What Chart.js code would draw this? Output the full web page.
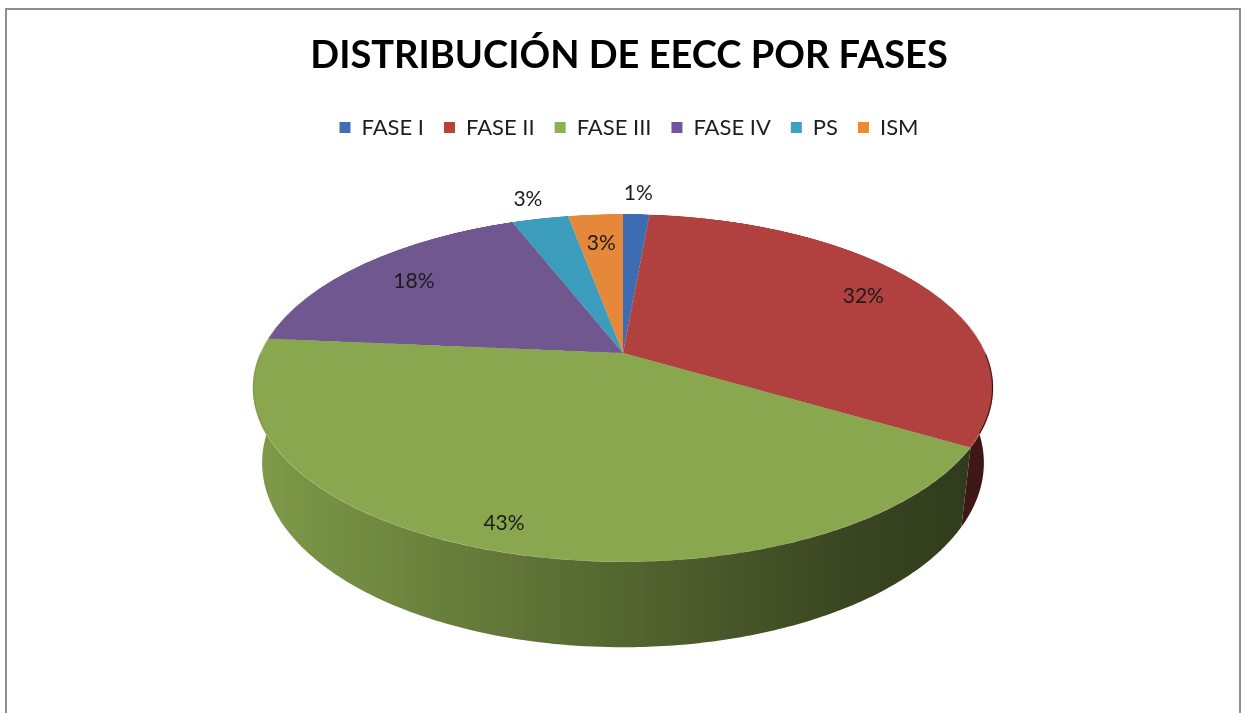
<!DOCTYPE html>
<html>
<head>
<meta charset="utf-8">
<script src="https://cdn.jsdelivr.net/npm/chart.js@4.4.1/dist/chart.umd.min.js"></script>
<style>
    html, body { margin: 0; background: #fff; }
    #wrap { position: relative; width: 1244px; height: 713px; overflow: hidden; }
    #frame { position: absolute; left: 5px; top: 8px; width: 1236px; height: 800px;
             border: 2px solid #8e8e8e; box-sizing: border-box; z-index: 0; }
    #pieBox { position: absolute; width: 760px; height: 760px; z-index: 1; }
    #flat { position: absolute; left: 0; top: 0; z-index: 2; }
</style>
</head>
<body>
<div id="wrap">
    <div id="frame"></div>
    <div id="pieBox"><canvas id="pieTop" width="760" height="760"></canvas></div>
    <canvas id="flat" width="1244" height="713"></canvas>
</div>
<script>
'use strict';

// ------------------------------------------------------- //
// Data
// ------------------------------------------------------ //
var chartTitle = 'DISTRIBUCIÓN DE EECC POR FASES';
var categories = ['FASE I', 'FASE II', 'FASE III', 'FASE IV', 'PS', 'ISM'];
var values     = [1.4, 32.1, 42.9, 17.7, 3.0, 2.9];

var legendColors = ['#3f6eb5', '#b8403d', '#8fb153', '#7453a0', '#3ea1c2', '#ef8a33'];
var topColors    = ['#3c6cb2', '#b0413e', '#89a74e', '#70578f', '#3b9cbb', '#e6883a'];
// how far out each percentage sits, as a share of the radius
var labelRadius  = [1.19, 0.80, 0.89, 0.79, 1.18, 0.76];

// ------------------------------------------------------- //
// Perspective of the tilted pie (Excel style 3D)
// ------------------------------------------------------ //
var view = { cx: 623, cy: 353, R: 362.5, tilt: 62.6, dist: 1601, depth: 85 };
var half = 380;

var box = document.getElementById('pieBox');
box.style.left = (view.cx - half) + 'px';
box.style.top = (view.cy - half) + 'px';
box.style.transformOrigin = half + 'px ' + half + 'px';
box.style.transform = 'perspective(' + view.dist + 'px) rotateX(' + view.tilt + 'deg)';

// same maths as the css transform, h = distance below the top face
function project(theta, f, h) {
    var t = view.tilt * Math.PI / 180;
    var x = view.R * f * Math.cos(theta);
    var y = view.R * f * Math.sin(theta);
    var Y = y * Math.cos(t) + h * Math.sin(t);
    var Z = y * Math.sin(t) - h * Math.cos(t);
    var w = 1 - Z / view.dist;
    return { x: view.cx + x / w, y: view.cy + Y / w };
}

function shade(hex, k) {
    var n = parseInt(hex.slice(1), 16);
    var r = Math.round(((n >> 16) & 255) * k);
    var g = Math.round(((n >> 8) & 255) * k);
    var b = Math.round((n & 255) * k);
    return 'rgb(' + r + ',' + g + ',' + b + ')';
}

var total = values.reduce(function (a, b) { return a + b; }, 0);

var pie3d = {
    id: 'pie3d',
    // the top face is drawn by the tilted chart underneath
    beforeDatasetsDraw: function () { return false; },
    afterDraw: function (chart) {
        var ctx = chart.ctx;
        var arcs = chart.getDatasetMeta(0).data;
        var steps = 90, i, k;

        ctx.save();
        // keep the side off the top face
        ctx.beginPath();
        ctx.rect(0, 0, chart.width, chart.height);
        for (k = 0; k <= 360; k++) {
            var q = project(k / 360 * 2 * Math.PI, 0.997, 0);
            if (k === 0) ctx.moveTo(q.x, q.y); else ctx.lineTo(q.x, q.y);
        }
        ctx.closePath();
        ctx.clip('evenodd');

        var pieces = [];
        arcs.forEach(function (arc, idx) {
            [[0, Math.PI / 2], [Math.PI / 2, Math.PI]].forEach(function (r, side) {
                var a = Math.max(arc.startAngle, r[0]);
                var b = Math.min(arc.endAngle, r[1]);
                if (b > a) pieces.push({ i: idx, a: a, b: b, side: side });
            });
        });
        var right = pieces.filter(function (p) { return p.side === 0; }).sort(function (p, q) { return p.a - q.a; });
        var left = pieces.filter(function (p) { return p.side === 1; }).sort(function (p, q) { return q.a - p.a; });

        right.concat(left).forEach(function (p) {
            var c = topColors[p.i];
            var grad = ctx.createLinearGradient(view.cx - view.R - 10, 0, view.cx + view.R + 10, 0);
            grad.addColorStop(0, shade(c, 0.93));
            grad.addColorStop(0.45, shade(c, 0.64));
            grad.addColorStop(0.8, shade(c, 0.42));
            grad.addColorStop(1, shade(c, 0.34));
            ctx.beginPath();
            for (i = 0; i <= steps; i++) {
                var t1 = p.a + (p.b - p.a) * i / steps;
                var top = project(t1, 1, 0);
                if (i === 0) ctx.moveTo(top.x, top.y); else ctx.lineTo(top.x, top.y);
            }
            for (i = steps; i >= 0; i--) {
                var t2 = p.a + (p.b - p.a) * i / steps;
                var bot = project(t2, 1, view.depth);
                ctx.lineTo(bot.x, bot.y);
            }
            ctx.closePath();
            ctx.fillStyle = grad;
            ctx.fill();
        });
        ctx.restore();

        // percentage labels
        ctx.save();
        ctx.font = '21px Lato';
        ctx.fillStyle = '#1c1c1c';
        ctx.textAlign = 'center';
        ctx.textBaseline = 'middle';
        arcs.forEach(function (arc, idx) {
            var mid = (arc.startAngle + arc.endAngle) / 2;
            var p = project(mid, labelRadius[idx], 0);
            ctx.fillText(Math.round(values[idx] / total * 100) + '%', p.x, p.y);
        });
        ctx.restore();
    }
};

// ------------------------------------------------------- //
// Top face of the pie (tilted by css)
// ------------------------------------------------------ //
var pieTop = new Chart(document.getElementById('pieTop'), {
    type: 'pie',
    data: {
        labels: categories,
        datasets: [{
            data: values,
            backgroundColor: topColors,
            borderWidth: 0,
            hoverOffset: 0
        }]
    },
    options: {
        responsive: false,
        animation: false,
        events: [],
        radius: view.R,
        layout: { padding: 0 },
        plugins: {
            legend: { display: false },
            title: { display: false },
            tooltip: { enabled: false }
        }
    }
});

// ------------------------------------------------------- //
// Title, legend, side and labels
// ------------------------------------------------------ //
var flat = new Chart(document.getElementById('flat'), {
    type: 'pie',
    data: {
        labels: categories,
        datasets: [{
            data: values,
            backgroundColor: legendColors,
            borderWidth: 0
        }]
    },
    options: {
        responsive: false,
        animation: false,
        events: [],
        layout: { padding: { left: 14 } },
        plugins: {
            title: {
                display: true,
                text: chartTitle,
                color: '#000',
                font: { family: 'Lato', size: 38, weight: 'bold' },
                padding: { top: 33, bottom: 18 }
            },
            legend: {
                position: 'top',
                labels: {
                    boxWidth: 11,
                    boxHeight: 11,
                    padding: 20,
                    color: '#1e1e1e',
                    font: { family: 'Lato', size: 22 }
                }
            },
            tooltip: { enabled: false }
        }
    },
    plugins: [pie3d]
});
</script>
</body>
</html>
